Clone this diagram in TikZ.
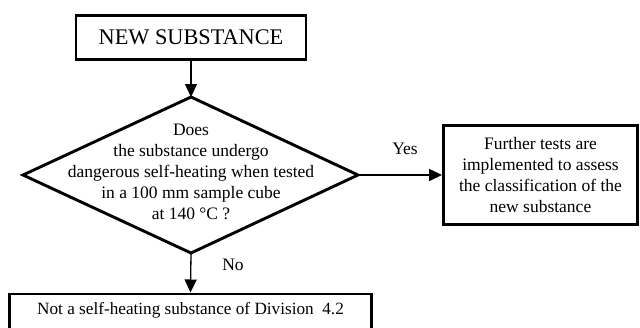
\documentclass[tikz,border=0pt]{standalone}
\usepackage{fontspec}
\setmainfont{Liberation Serif}
\usetikzlibrary{arrows.meta}
\begin{document}
\begin{tikzpicture}[x=1pt,y=-1pt,
  box/.style={draw,line width=2.9pt,inner sep=0pt,align=center},
  conn/.style={line width=1.3pt,-{Triangle[length=13pt,width=12pt]}},
  txt/.style={inner sep=0pt,align=center,font=\fontsize{17.5}{21}\selectfont},
  lbl/.style={inner sep=0pt,font=\fontsize{17.5}{21}\selectfont}]
\useasboundingbox (0,0) rectangle (640,327);
\clip (0,0) rectangle (640,327);
% top box
\node[box,minimum width=230pt,minimum height=44pt,font=\fontsize{22.3}{26}\selectfont] (top) at (191,37.5) {NEW SUBSTANCE};
% diamond
\coordinate (dt) at (191,97);
\coordinate (dr) at (358,175);
\coordinate (db) at (191,253);
\coordinate (dl) at (23,175);
\draw[line width=2.9pt,line join=miter] (dt) -- (dr) -- (db) -- (dl) -- cycle;
\node[txt] (q) at (191,172) {Does\\the substance undergo\\dangerous self-heating when tested\\in a 100 mm sample cube\\at 140 °C ?};
% right box
\node[box,minimum width=194pt,minimum height=99pt] (yesbox) at (540.5,175) {};
\node[txt] (yestext) at (540.5,175) {Further tests are\\implemented to assess\\the classification of the\\new substance};
% bottom box
\node[box,minimum width=362pt,minimum height=60pt,anchor=north] (nobox) at (190.5,292.5) {};
\node[txt,font=\fontsize{17.2}{21}\selectfont] (notext) at (190.5,310) {Not a self-heating substance of Division~ 4.2};
% connectors
\draw[conn] (top.south) -- (dt);
\draw[conn] (dr) -- (yesbox.west);
\draw[conn] (db) -- (nobox.north);
\node[lbl] (yes) at (405,149) {Yes};
\node[lbl] (no) at (233,265) {No};
\end{tikzpicture}
\end{document}
